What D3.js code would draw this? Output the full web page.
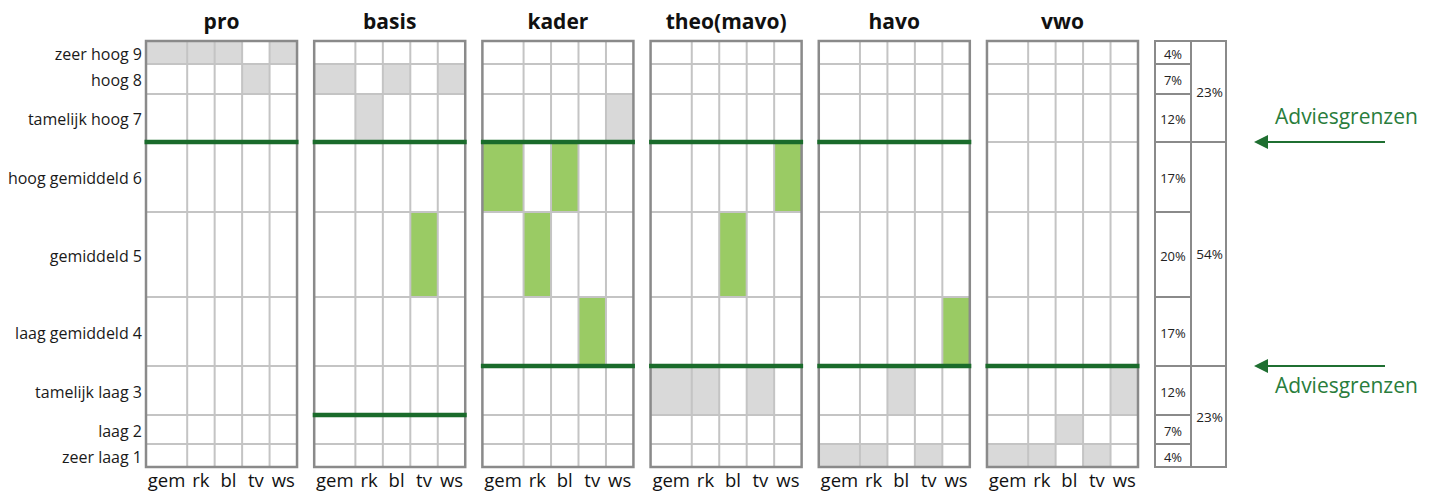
<!DOCTYPE html>
<html>
<head>
<meta charset="utf-8">
<script src="https://cdn.jsdelivr.net/npm/d3@7"></script>
<style>
  body { margin: 0; background: #fff; }
  svg { display: block; font-family: "Open Sans", sans-serif; }
</style>
</head>
<body>
<svg width="1433" height="493"></svg>
<script>
// stanine levels, bottom (1) to top (9)
const levels = ["zeer laag 1", "laag 2", "tamelijk laag 3", "laag gemiddeld 4", "gemiddeld 5",
    "hoog gemiddeld 6", "tamelijk hoog 7", "hoog 8", "zeer hoog 9"];
const levelShare = ["4%", "7%", "12%", "17%", "20%", "17%", "12%", "7%", "4%"];
const groupFrom = [1, 4, 7];
const groupTo = [3, 6, 9];
const groupShare = ["23%", "54%", "23%"];

const columns = ["gem", "rk", "bl", "tv", "ws"];
const panels = ["pro", "basis", "kader", "theo(mavo)", "havo", "vwo"];

// score (stanine) per column, per panel
const scores = [
    [9, 9, 9, 8, 9],   // pro
    [8, 7, 8, 5, 8],   // basis
    [6, 5, 6, 4, 7],   // kader
    [3, 3, 5, 3, 6],   // theo(mavo)
    [1, 1, 3, 1, 4],   // havo
    [1, 1, 2, 1, 3]    // vwo
];
// advice limits per panel
const adviceLow = [1, 3, 4, 4, 4, 4];
const adviceHigh = [6, 6, 6, 6, 6, 9];

const arrowLabel = "Adviesgrenzen";

// ---- layout ----
const rowHeights = [23, 29, 49, 69, 85, 70, 48, 30, 23]; // bottom to top, px
const colWeights = [1.5, 1, 1, 1, 1];
const plotTop = 41, plotBottom = 467;

const svg = d3.select("svg");

let cum = [0];
rowHeights.forEach(h => cum.push(cum[cum.length - 1] + h));
const yScale = d3.scaleLinear().domain([0, cum[cum.length - 1]]).range([plotBottom, plotTop]);
const rowTop = lvl => yScale(cum[lvl]);
const rowBottom = lvl => yScale(cum[lvl - 1]);

const panelScale = d3.scaleBand().domain(panels).range([146, 1138]).paddingInner(0.102);
const pw = panelScale.bandwidth();

let ccum = [0];
colWeights.forEach(w => ccum.push(ccum[ccum.length - 1] + w));
const colScale = d3.scaleLinear().domain([0, ccum[ccum.length - 1]]).range([0, pw]);

// y labels
svg.append("g").selectAll("text")
    .data(levels)
    .enter().append("text")
    .attr("x", 142)
    .attr("y", (d, i) => (rowTop(i + 1) + rowBottom(i + 1)) / 2 + 1)
    .attr("text-anchor", "end")
    .attr("dominant-baseline", "central")
    .attr("font-size", 16)
    .attr("fill", "#1a1a1a")
    .text(d => d);

panels.forEach((p, pi) => {
    const g = svg.append("g").attr("transform", `translate(${panelScale(p)},0)`);

    g.append("text")
        .attr("x", pw / 2)
        .attr("y", 29)
        .attr("text-anchor", "middle")
        .attr("font-size", 21)
        .attr("font-weight", "bold")
        .attr("fill", "#111")
        .text(p);

    // filled cells
    g.selectAll(".cell")
        .data(scores[pi])
        .enter().append("rect")
        .attr("class", "cell")
        .attr("x", (d, i) => colScale(ccum[i]))
        .attr("width", (d, i) => colScale(ccum[i + 1]) - colScale(ccum[i]))
        .attr("y", d => rowTop(d))
        .attr("height", d => rowBottom(d) - rowTop(d))
        .attr("fill", d => (d >= adviceLow[pi] && d <= adviceHigh[pi]) ? "#9acb64" : "#d9d9d9");

    // grid lines
    g.selectAll(".vl")
        .data(ccum.slice(1, -1))
        .enter().append("line")
        .attr("x1", d => colScale(d)).attr("x2", d => colScale(d))
        .attr("y1", plotTop).attr("y2", plotBottom)
        .attr("stroke", "#c4c4c4").attr("stroke-width", 2);
    g.selectAll(".hl")
        .data(cum.slice(1, -1))
        .enter().append("line")
        .attr("x1", 0).attr("x2", pw)
        .attr("y1", d => yScale(d)).attr("y2", d => yScale(d))
        .attr("stroke", "#c4c4c4").attr("stroke-width", 2);

    g.append("rect")
        .attr("x", 0).attr("y", plotTop)
        .attr("width", pw).attr("height", plotBottom - plotTop)
        .attr("fill", "none")
        .attr("stroke", "#8a8a8a").attr("stroke-width", 2.5);

    // advice limits
    const limits = [];
    if (adviceHigh[pi] < 9) limits.push(rowTop(adviceHigh[pi]));
    if (adviceLow[pi] > 1) limits.push(rowBottom(adviceLow[pi]));
    g.selectAll(".lim")
        .data(limits)
        .enter().append("line")
        .attr("x1", -1.5).attr("x2", pw + 1.5)
        .attr("y1", d => d).attr("y2", d => d)
        .attr("stroke", "#1a6b2b").attr("stroke-width", 4.5);

    // column labels
    g.selectAll(".cl")
        .data(columns)
        .enter().append("text")
        .attr("x", (d, i) => (colScale(ccum[i]) + colScale(ccum[i + 1])) / 2)
        .attr("y", 487)
        .attr("text-anchor", "middle")
        .attr("font-size", 18.5)
        .attr("fill", "#111")
        .text(d => d);
});

// percentage boxes
const bx1 = 1155, bx2 = 1191, bx3 = 1226;
const pg = svg.append("g");
pg.selectAll(".lv")
    .data(levelShare)
    .enter().append("rect")
    .attr("x", bx1).attr("width", bx2 - bx1)
    .attr("y", (d, i) => rowTop(i + 1))
    .attr("height", (d, i) => rowBottom(i + 1) - rowTop(i + 1))
    .attr("fill", "#fff").attr("stroke", "#8a8a8a").attr("stroke-width", 2);
pg.selectAll(".lvt")
    .data(levelShare)
    .enter().append("text")
    .attr("x", (bx1 + bx2) / 2)
    .attr("y", (d, i) => (rowTop(i + 1) + rowBottom(i + 1)) / 2 + 1)
    .attr("text-anchor", "middle")
    .attr("dominant-baseline", "central")
    .attr("font-size", 13)
    .attr("fill", "#222")
    .text(d => d);
pg.selectAll(".gr")
    .data(groupShare)
    .enter().append("rect")
    .attr("x", bx2).attr("width", bx3 - bx2)
    .attr("y", (d, i) => rowTop(groupTo[i]))
    .attr("height", (d, i) => rowBottom(groupFrom[i]) - rowTop(groupTo[i]))
    .attr("fill", "none").attr("stroke", "#8a8a8a").attr("stroke-width", 2);
pg.selectAll(".grt")
    .data(groupShare)
    .enter().append("text")
    .attr("x", (bx2 + bx3) / 2 + 1)
    .attr("y", (d, i) => (rowTop(groupTo[i]) + rowBottom(groupFrom[i])) / 2)
    .attr("text-anchor", "middle")
    .attr("dominant-baseline", "central")
    .attr("font-size", 13.5)
    .attr("fill", "#222")
    .text(d => d);

// arrows
svg.append("defs").append("marker")
    .attr("id", "ah")
    .attr("viewBox", "0 0 10 10")
    .attr("refX", 0).attr("refY", 5)
    .attr("markerWidth", 8).attr("markerHeight", 7)
    .attr("markerUnits", "strokeWidth")
    .attr("orient", "auto-start-reverse")
    .append("path")
    .attr("d", "M0,0 L10,5 L0,10 z")
    .attr("fill", "#1f6f31");

const arrowY = [rowTop(6), rowBottom(4)];
svg.selectAll(".arr")
    .data(arrowY)
    .enter().append("line")
    .attr("x1", 1385).attr("x2", 1268)
    .attr("y1", d => d).attr("y2", d => d)
    .attr("stroke", "#1f6f31").attr("stroke-width", 2)
    .attr("marker-end", "url(#ah)");
svg.selectAll(".arrt")
    .data(arrowY)
    .enter().append("text")
    .attr("x", 1275)
    .attr("y", (d, i) => i == 0 ? d - 18 : d + 27)
    .attr("font-size", 21)
    .attr("fill", "#2a7d3c")
    .text(arrowLabel);
</script>
</body>
</html>
